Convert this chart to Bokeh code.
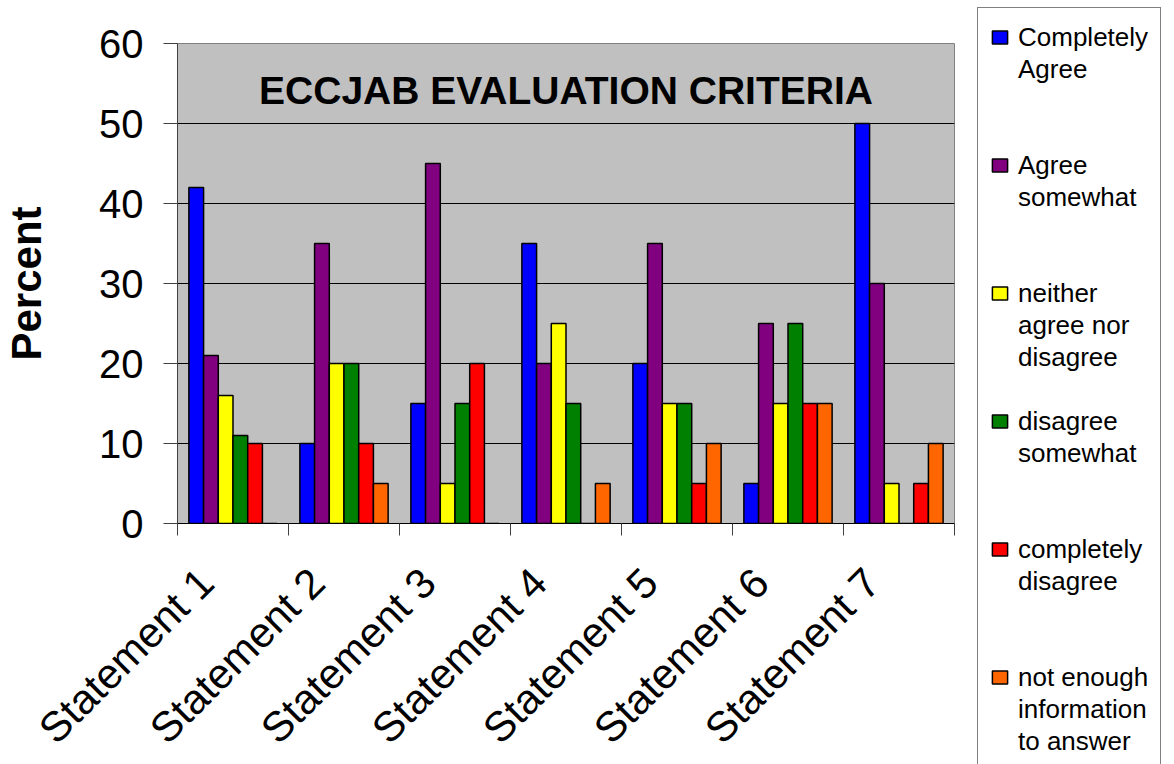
import numpy as np
from bokeh.plotting import figure
from bokeh.models import Range1d, FixedTicker, Label, Legend, LegendItem
from bokeh.embed import file_html
from bokeh.resources import INLINE

# ---------------- data ----------------
categories = ["Statement 1", "Statement 2", "Statement 3", "Statement 4",
              "Statement 5", "Statement 6", "Statement 7"]
series_names = ["Completely Agree", "Agree somewhat", "neither agree nor disagree",
                "disagree somewhat", "completely disagree",
                "not enough information to answer"]
legend_lines = [["Completely", "Agree"], ["Agree", "somewhat"],
                ["neither", "agree nor", "disagree"], ["disagree", "somewhat"],
                ["completely", "disagree"], ["not enough", "information", "to answer"]]
completely_agree = [42, 10, 15, 35, 20, 5, 50]
agree_somewhat = [21, 35, 45, 20, 35, 25, 30]
neither_agree_nor_disagree = [16, 20, 5, 25, 15, 15, 5]
disagree_somewhat = [11, 20, 15, 15, 15, 25, 0]
completely_disagree = [10, 10, 20, 0, 5, 15, 5]
not_enough_information = [0, 5, 0, 5, 10, 15, 10]
series_values = [completely_agree, agree_somewhat, neither_agree_nor_disagree,
                 disagree_somewhat, completely_disagree, not_enough_information]
colors = ["#0000FF", "#800080", "#FFFF00", "#008000", "#FF0000", "#FF6600"]
y_ticks = [0, 10, 20, 30, 40, 50, 60]
title_text = "ECCJAB EVALUATION CRITERIA"
y_label = "Percent"

FONT = "Liberation Sans"

# ---------------- layout constants ----------------
W, H = 1158, 748
FL, FT, FW, FH = 177, 43, 777, 480
n_cat = len(categories)
n_ser = len(series_values)
Y_MAX = 60
bar_w = 0.1325
label_shift = -0.24
SLOTS_PER_ITEM = 4
LEG_ROW = 32

p = figure(width=W, height=H, frame_width=FW, frame_height=FH,
           x_range=Range1d(0, n_cat), y_range=Range1d(0, Y_MAX),
           output_backend="svg", toolbar_location=None,
           min_border_left=FL, min_border_right=W - FL - FW,
           min_border_top=FT, min_border_bottom=H - FT - FH,
           background_fill_color="#C0C0C0", border_fill_color="white")
p.outline_line_color = "#808080"
p.outline_line_width = 1

renderers = []
for i, (vals, col) in enumerate(zip(series_values, colors)):
    xs = np.arange(n_cat) + 0.5 + (i - (n_ser - 1) / 2) * bar_w
    r = p.vbar(x=xs, top=vals, bottom=0, width=bar_w, fill_color=col,
               line_color="black", line_width=1.5)
    renderers.append(r)

# grid
p.xgrid.visible = False
p.ygrid.ticker = FixedTicker(ticks=y_ticks[1:-1])
p.ygrid.grid_line_color = "black"
p.ygrid.grid_line_width = 1
p.ygrid.level = "image"

# y axis
yax = p.yaxis[0]
yax.ticker = FixedTicker(ticks=y_ticks, minor_ticks=[])
yax.major_label_text_font = FONT
yax.major_label_text_font_size = "40px"
yax.major_label_text_color = "black"
yax.major_tick_out = 14
yax.major_tick_in = 0
yax.major_tick_line_color = "#404040"
yax.axis_line_color = "#404040"
yax.major_label_standoff = 20
yax.axis_label = y_label
yax.axis_label_text_font = FONT
yax.axis_label_text_font_size = "42px"
yax.axis_label_text_font_style = "bold"
yax.axis_label_text_color = "black"
yax.axis_label_standoff = 46

# x axis
xax = p.xaxis[0]
label_pos = [i + 0.5 + label_shift for i in range(n_cat)]
xax.ticker = FixedTicker(ticks=label_pos, minor_ticks=list(range(n_cat + 1)))
xax.major_label_overrides = {t: c for t, c in zip(label_pos, categories)}
xax.major_tick_line_color = None
xax.major_tick_out = 0
xax.major_tick_in = 0
xax.minor_tick_out = 12
xax.minor_tick_in = 0
xax.minor_tick_line_color = "#404040"
xax.axis_line_color = "black"
xax.major_label_orientation = np.pi / 4
xax.major_label_standoff = 40
xax.major_label_text_font = FONT
xax.major_label_text_font_size = "42px"
xax.major_label_text_color = "black"

# title inside plot area
p.add_layout(Label(x=n_cat / 2, y=54.1, text=title_text, text_align="center",
                   text_baseline="middle", text_font=FONT, text_font_size="39px",
                   text_font_style="bold", text_color="black"))

# ---------------- legend (right panel), one row per text line ----------------
items = []
for i, lines in enumerate(legend_lines):
    for k in range(SLOTS_PER_ITEM if i < n_ser - 1 else len(lines)):
        if k == 0:
            items.append(LegendItem(label=lines[0], renderers=[renderers[i]]))
        elif k < len(lines):
            items.append(LegendItem(label=lines[k], renderers=[]))
        else:
            items.append(LegendItem(label=" ", renderers=[]))

legend = Legend(items=items, location=(23, -247),
                title=" ", title_text_font_size="1px", title_standoff=0,
                padding=12, margin=0, spacing=0,
                glyph_width=19, glyph_height=16, label_height=LEG_ROW,
                label_width=130, label_standoff=9,
                label_text_font=FONT, label_text_font_size="26px",
                label_text_baseline="alphabetic", label_text_color="black",
                border_line_color="black", border_line_width=1,
                background_fill_color="white", background_fill_alpha=1)
p.add_layout(legend, "right")

open("out.html", "w").write(file_html(p, INLINE))
